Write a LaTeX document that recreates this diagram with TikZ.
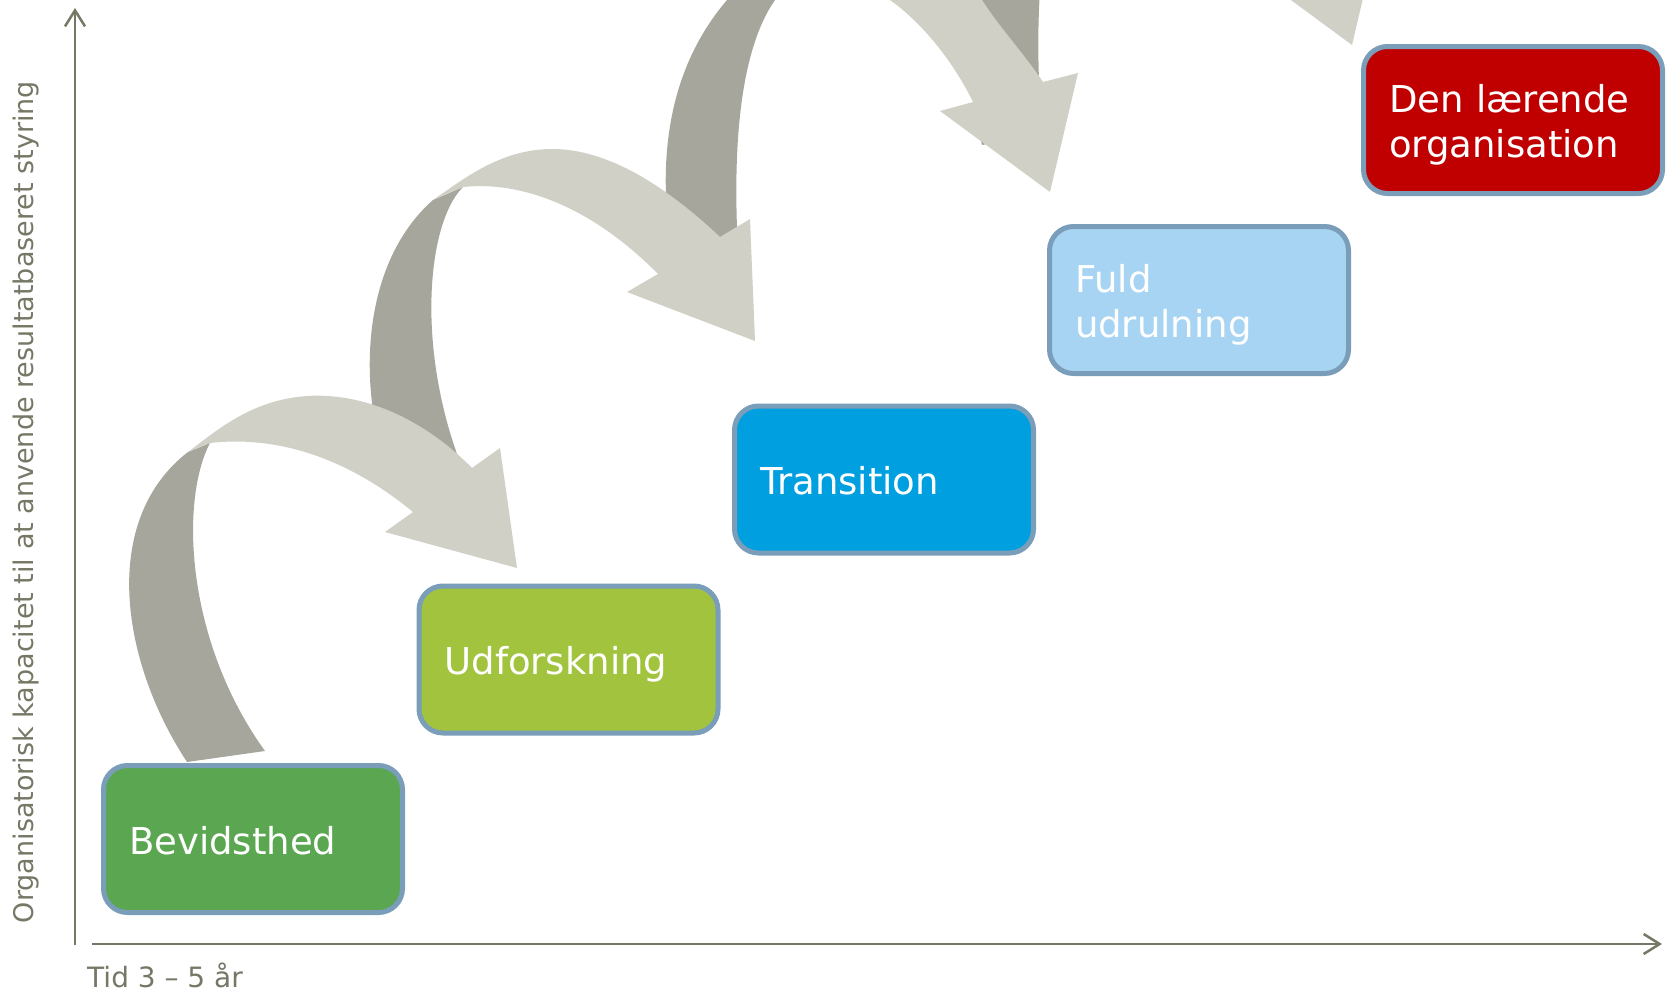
\documentclass[tikz,border=0pt]{standalone}
\usepackage{fontspec}
\setmainfont{DejaVu Sans}
\usetikzlibrary{arrows.meta}
\definecolor{axisgray}{RGB}{119,119,102}
\definecolor{backband}{RGB}{166,166,156}
\definecolor{frontband}{RGB}{208,208,199}
\definecolor{stageedge}{RGB}{122,157,185}
\definecolor{stageone}{RGB}{91,166,80}
\definecolor{stagetwo}{RGB}{162,195,62}
\definecolor{stagethree}{RGB}{0,159,224}
\definecolor{stagefour}{RGB}{168,212,244}
\definecolor{stagefive}{RGB}{192,0,0}
\newcommand{\tallsweep}{%
	\fill[backband] (680,292) .. controls (660,210) and (650,90) .. (727,0)
	.. controls (745,-22) and (765,-40) .. (790,-55) -- (815,-35)
	.. controls (800,-25) and (785,-12) .. (775,0)
	.. controls (740,50) and (730,150) .. (740,280) -- cycle;
	\fill[frontband] (790,-55) .. controls (880,-110) and (950,-50) .. (982,0)
	.. controls (1000,28) and (1025,55) .. (1043,82)
	-- (1078,73) -- (1050,192) -- (940,111) -- (973,102)
	.. controls (955,65) and (925,25) .. (890,0)
	.. controls (860,-35) and (840,-45) .. (815,-35) -- cycle;
}
\begin{document}
\begin{tikzpicture}[x=1pt,y=-1pt,line join=round,
	stage/.style={draw=stageedge,line width=5pt,rounded corners=24pt,
		minimum width=299pt,minimum height=147pt,text width=248pt,inner xsep=25.5pt,
		align=left,text=white,font=\fontsize{37}{45}\selectfont,text height=30pt,text depth=0pt},
	axis/.style={draw=axisgray,line width=2.5pt,-{Straight Barb[length=16pt,width=20pt]}},
	axislabel/.style={text=axisgray,font=\fontsize{27}{32}\selectfont,inner sep=0pt}]
	\useasboundingbox (0,0) rectangle (1671,993);
	\begin{scope}
		\clip (0,0) rectangle (1671,993);
		\begin{scope}[shift={(302,-147)}]
			\tallsweep
		\end{scope}
		\tallsweep
		\fill[backband] (380,445) .. controls (360,370) and (365,260) .. (433,200) -- (463,187)
		.. controls (425,225) and (415,360) .. (468,482) -- cycle;
		\fill[frontband] (433,200) .. controls (465,178) and (500,150) .. (550,149)
		.. controls (610,148) and (670,190) .. (720,237)
		-- (750,219) -- (755,341) -- (627,292) -- (658,274)
		.. controls (600,215) and (530,180) .. (463,187) -- cycle;
		\fill[backband] (187,762) .. controls (120,660) and (100,520) .. (188,452) -- (210,443)
		.. controls (180,500) and (185,640) .. (265,751) -- cycle;
		\fill[frontband] (188,452) .. controls (215,432) and (250,400) .. (307,396)
		.. controls (370,392) and (430,425) .. (472,468)
		-- (500,448) -- (517,568) -- (385,532) -- (413,512)
		.. controls (350,460) and (280,435) .. (210,443) -- cycle;
	\end{scope}
	\node[stage,fill=stageone] (bevidsthed) at (253,839) {Bevidsthed};
	\node[stage,fill=stagetwo] (udforskning) at (568.5,659.5) {Udforskning};
	\node[stage,fill=stagethree] (transition) at (884,479.5) {Transition};
	\node[stage,fill=stagefour,text depth=45pt] (fuld) at (1199,300) {Fuld\\udrulning};
	\node[stage,fill=stagefive,text depth=45pt] (laerende) at (1513,120) {Den lærende\\organisation};
	\coordinate (yfoot) at (75,945);
	\coordinate (ytop) at (75,8);
	\coordinate (xfoot) at (92,944);
	\coordinate (xtip) at (1662,944);
	\draw[axis] (yfoot) -- (ytop);
	\draw[axis] (xfoot) -- (xtip);
	\node[axislabel,font=\fontsize{28}{32}\selectfont,anchor=base west] (tid) at (87,987) {Tid 3 – 5 år};
	\node[axislabel,rotate=90] (kapacitet) at (26,502) {Organisatorisk kapacitet til at anvende resultatbaseret styring};
\end{tikzpicture}
\end{document}
